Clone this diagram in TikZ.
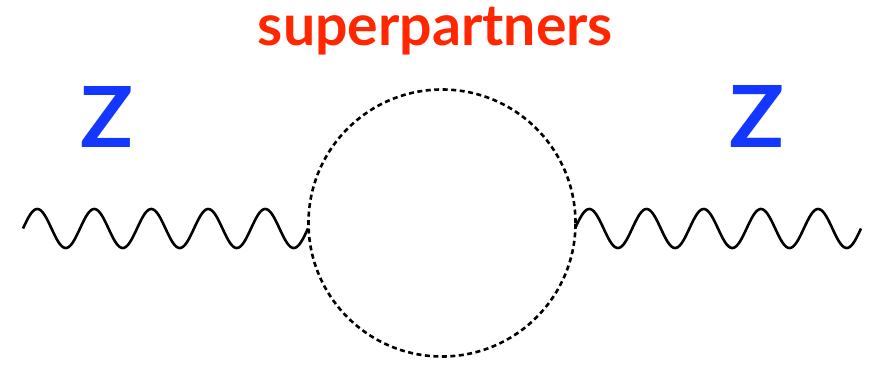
\documentclass[tikz,border=0pt]{standalone}
\usepackage{fontspec}
\setmainfont{Lato}
\definecolor{kred}{RGB}{255,38,0}
\definecolor{kblue}{RGB}{20,55,255}
\begin{document}
\begin{tikzpicture}[x=1pt,y=-1pt,
  wave/.style={line width=2.6pt,black},
  loopline/.style={line width=2.6pt,dash pattern=on 5pt off 3.5pt},
  zlabel/.style={text=kblue,font=\bfseries,inner sep=0pt,anchor=base},
  toplabel/.style={text=kred,font=\bfseries,inner sep=0pt,anchor=base}]
\useasboundingbox (0,0) rectangle (875,370);
\node[circle,draw,loopline,minimum size=267pt,inner sep=0pt] (loop) at (442,223) {};
\coordinate (lstart) at (23,228.5);
\coordinate (rstart) at (575,228.5);
\draw[wave] (lstart) plot[domain=0:285,samples=240,smooth] ({23+\x},{228.5-19.5*sin(6.31579*\x)});
\draw[wave] (rstart) plot[domain=0:286,samples=240,smooth] ({575+\x},{228.5-19.5*sin(6.29371*\x)});
\node[zlabel] (zl) at (107.5,147) {\resizebox{53pt}{61pt}{Z}};
\node[zlabel] (zr) at (756.5,147) {\resizebox{55pt}{62pt}{Z}};
\node[toplabel] (sp) at (435.5,45) {\resizebox{355pt}{!}{superpartners}};
\end{tikzpicture}
\end{document}
